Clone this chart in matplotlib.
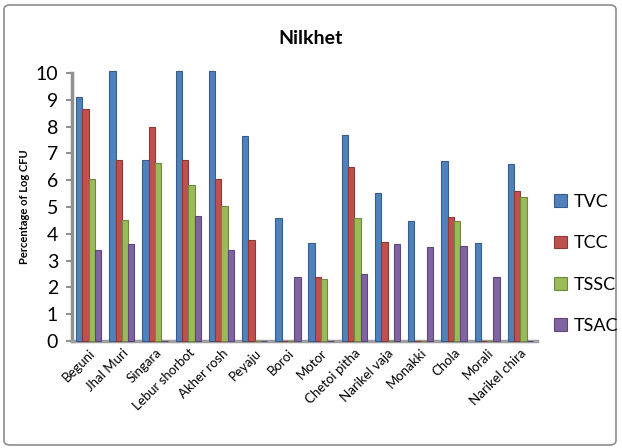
import matplotlib
matplotlib.use("Agg")
import matplotlib.pyplot as plt
import numpy as np
from matplotlib.patches import FancyBboxPatch

plt.rcParams['font.family'] = ['Lato', 'DejaVu Sans']

categories = ["Beguni", "Jhal Muri", "Singara", "Lebur shorbot", "Akher rosh", "Peyaju",
              "Boroi", "Motor", "Chetoi pitha", "Narikel vaja", "Monakki", "Chola",
              "Morali", "Narikel chira"]
tvc = [9.1, 10.07, 6.75, 10.07, 10.07, 7.65, 4.59, 3.66, 7.69, 5.52, 4.48, 6.72, 3.66, 6.6]
tcc = [8.66, 6.75, 7.98, 6.75, 6.04, 3.77, 0, 2.39, 6.5, 3.69, 0, 4.63, 0, 5.6]
tssc = [6.04, 4.51, 6.64, 5.82, 5.04, 0, 0, 2.31, 4.59, 0, 0, 4.48, 0, 5.37]
tsac = [3.40, 3.62, 0, 4.66, 3.40, 0, 2.39, 0, 2.5, 3.62, 3.51, 3.54, 2.39, 0]
series_names = ["TVC", "TCC", "TSSC", "TSAC"]
colors = ["#4F81BD", "#C0504D", "#9BBB59", "#8064A2"]
edges = ["#385D8A", "#8C3836", "#71893F", "#5C4776"]

fig = plt.figure(figsize=(6.22, 4.48), dpi=100)
ax = fig.add_axes([72/622, 1-341/448, 465/622, 268/448])

x = np.arange(len(categories))
w = 0.19
for i, (vals, c, e, n) in enumerate(zip([tvc, tcc, tssc, tsac], colors, edges, series_names)):
    ax.bar(x + (i - 1.5) * w, vals, width=w, color=c, edgecolor=e, linewidth=0.8, label=n,
           zorder=3, clip_on=False)

ax.set_xlim(-0.5, len(categories) - 0.5)
ax.set_ylim(0, 10)
ax.set_yticks(range(0, 11))
ax.tick_params(axis='y', labelsize=14, length=4, width=1.5, color='#909090', pad=6)
ax.tick_params(axis='x', length=0, pad=4)
ax.set_xticks(x)
ax.set_xticklabels(categories, rotation=45, ha='right', rotation_mode='anchor', fontsize=9.5)
for s in ['top', 'right']:
    ax.spines[s].set_visible(False)
ax.spines['left'].set_color('#909090')
ax.spines['left'].set_linewidth(2.5)
ax.spines['bottom'].set_color('#A0A0A0')
ax.spines['bottom'].set_linewidth(2.5)

ax.set_ylabel("Percentage of Log CFU", fontsize=8, fontweight='bold', labelpad=4)
fig.text(0.5, 1 - 38/448, "Nilkhet", ha='center', va='center', fontsize=14, fontweight='bold')

leg = fig.legend(loc='center left', bbox_to_anchor=(538/622, 1 - 264/448), frameon=False,
                 fontsize=13, handlelength=0.7, handleheight=0.7, labelspacing=1.4,
                 handletextpad=0.4)

border = FancyBboxPatch((4/622, 3/448), 612/622, 440/448, boxstyle="round,pad=0,rounding_size=0.01",
                        transform=fig.transFigure, fill=False, edgecolor='#8C8C8C', linewidth=1.2)
fig.patches.append(border)

fig.savefig("out.png", dpi=100)
